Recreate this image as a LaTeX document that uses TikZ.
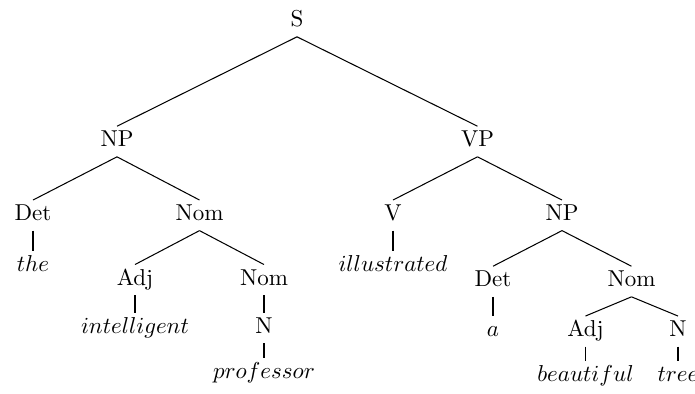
\documentclass[tikz,border=0pt]{standalone}
\begin{document}
\begin{tikzpicture}[x=0.4348pt,y=-0.4348pt,
  lab/.style={anchor=base,inner sep=2pt,text height=6.7pt,text depth=2.2pt},
  edge/.style={line width=0.45pt}]
\useasboundingbox (0,0) rectangle (695,393);
% level nodes
\node[lab] (S) at (297,26.7) {S};
\node[lab] (NP1) at (117,146.7) {NP};
\node[lab] (VP) at (477.5,146.7) {VP};
\node[lab] (Det1) at (33,220.5) {Det};
\node[lab] (Nom1) at (199.5,220.5) {Nom};
\node[lab] (V) at (393,220.5) {V};
\node[lab] (NP2) at (562,220.5) {NP};
\node[lab] (the) at (33,271.7) {$the$};
\node[lab] (ill) at (393,271.7) {$illustrated$};
\node[lab] (Adj1) at (135,285) {Adj};
\node[lab] (Nom2) at (264,285) {Nom};
\node[lab] (Det2) at (493,286.7) {Det};
\node[lab] (Nom3) at (631.5,286.7) {Nom};
\node[lab] (int) at (135,333.3) {$intelligent$};
\node[lab] (N1) at (264,333.3) {N};
\node[lab] (a) at (493,336.7) {$a$};
\node[lab] (Adj2) at (585.5,336.5) {Adj};
\node[lab] (N2) at (678,336.5) {N};
\node[lab] (prof) at (264,378.3) {$professor$};
\node[lab] (beau) at (585.5,381.7) {$beautiful$};
\node[lab] (tree) at (678,381.7) {$tree$};
% edges
\foreach \p/\c in {S/NP1,S/VP,NP1/Det1,NP1/Nom1,Det1/the,Nom1/Adj1,Nom1/Nom2,
  Adj1/int,Nom2/N1,N1/prof,VP/V,VP/NP2,V/ill,NP2/Det2,NP2/Nom3,Det2/a,
  Nom3/Adj2,Nom3/N2,Adj2/beau,N2/tree}
  \draw[edge] (\p.south) -- (\c.north);
\end{tikzpicture}
\end{document}
